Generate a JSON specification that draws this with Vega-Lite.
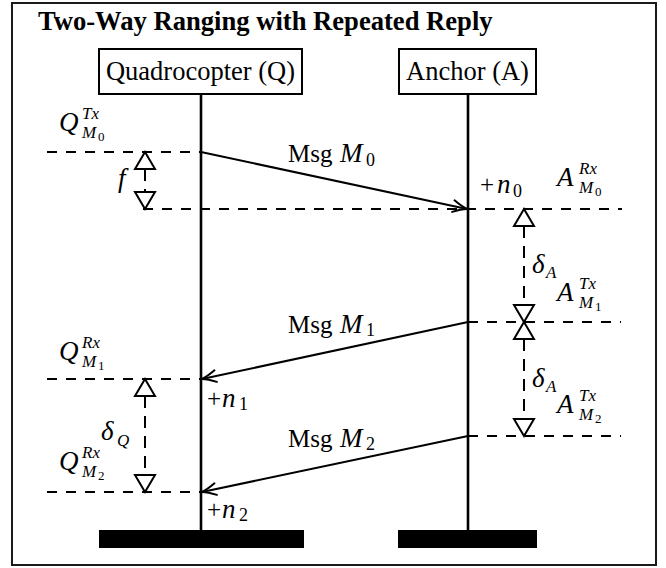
{
  "$schema": "https://vega.github.io/schema/vega-lite/v6.json",
  "width": 666,
  "height": 568,
  "autosize": {"type": "fit", "contains": "padding"},
  "padding": 0,
  "config": {"view": {"stroke": null}},
  "datasets": {
    "frame": [{"x": 12, "x2": 656, "y": 3, "y2": 565}],
    "boxes": [
      {"node": "Quadrocopter (Q)", "x": 99, "x2": 302, "y": 49, "y2": 94},
      {"node": "Anchor (A)", "x": 399, "x2": 536, "y": 49, "y2": 94}
    ],
    "names": [
      {"t": "Quadrocopter (Q)", "x": 200.5, "y": 80},
      {"t": "Anchor (A)", "x": 467.5, "y": 80}
    ],
    "lifelines": [
      {"node": "Q", "x": 201, "y": 94, "y2": 530},
      {"node": "A", "x": 468, "y": 94, "y2": 530}
    ],
    "bars": [
      {"node": "Q", "x": 99, "x2": 304, "y": 530, "y2": 548},
      {"node": "A", "x": 398, "x2": 537, "y": 530, "y2": 548}
    ],
    "events": [
      {"event": "Q Tx M0", "x": 47, "x2": 201, "y": 152},
      {"event": "A Rx M0", "x": 143, "x2": 622, "y": 209},
      {"event": "A Tx M1", "x": 468, "x2": 621, "y": 322},
      {"event": "Q Rx M1", "x": 47, "x2": 201, "y": 379},
      {"event": "A Tx M2", "x": 468, "x2": 621, "y": 436},
      {"event": "Q Rx M2", "x": 47, "x2": 201, "y": 492}
    ],
    "messages": [
      {"msg": "M0", "x": 201, "y": 152, "x2": 467, "y2": 209},
      {"msg": "M1", "x": 468, "y": 322, "x2": 202, "y2": 379},
      {"msg": "M2", "x": 468, "y": 436, "x2": 202, "y2": 492}
    ],
    "intervals": [
      {"label": "f", "x": 145, "y": 152, "y2": 209},
      {"label": "delta_Q", "x": 145, "y": 379, "y2": 492},
      {"label": "delta_A1", "x": 524, "y": 209, "y2": 322},
      {"label": "delta_A2", "x": 524, "y": 322, "y2": 436}
    ],
    "title": [{"t": "Two-Way Ranging with Repeated Reply", "x": 38, "y": 30}],
    "roman": [
      {"t": "Msg", "x": 288, "y": 162},
      {"t": "Msg", "x": 288, "y": 333},
      {"t": "Msg", "x": 288, "y": 447},
      {"t": "+", "x": 480, "y": 193},
      {"t": "+", "x": 207, "y": 407},
      {"t": "+", "x": 207, "y": 518}
    ],
    "italic": [
      {"t": "M", "x": 340, "y": 162},
      {"t": "M", "x": 340, "y": 333},
      {"t": "M", "x": 340, "y": 447},
      {"t": "n", "x": 497, "y": 193},
      {"t": "n", "x": 222, "y": 407},
      {"t": "n", "x": 222, "y": 518},
      {"t": "Q", "x": 59, "y": 131},
      {"t": "Q", "x": 59, "y": 360},
      {"t": "Q", "x": 59, "y": 470},
      {"t": "A", "x": 557, "y": 186},
      {"t": "A", "x": 557, "y": 301},
      {"t": "A", "x": 557, "y": 413},
      {"t": "f", "x": 118, "y": 187},
      {"t": "δ", "x": 532, "y": 273},
      {"t": "δ", "x": 532, "y": 387},
      {"t": "δ", "x": 101, "y": 440}
    ],
    "script": [
      {"t": "Tx", "x": 82, "y": 119},
      {"t": "Rx", "x": 82, "y": 348},
      {"t": "Rx", "x": 82, "y": 458},
      {"t": "Rx", "x": 579, "y": 174},
      {"t": "Tx", "x": 579, "y": 289},
      {"t": "Tx", "x": 579, "y": 401},
      {"t": "M", "x": 82, "y": 138},
      {"t": "M", "x": 82, "y": 367},
      {"t": "M", "x": 82, "y": 477},
      {"t": "M", "x": 579, "y": 193},
      {"t": "M", "x": 579, "y": 308},
      {"t": "M", "x": 579, "y": 420},
      {"t": "A", "x": 546, "y": 278},
      {"t": "A", "x": 546, "y": 392},
      {"t": "Q", "x": 117, "y": 446}
    ],
    "digits": [
      {"t": "0", "x": 366, "y": 166},
      {"t": "1", "x": 366, "y": 336},
      {"t": "2", "x": 366, "y": 450},
      {"t": "0", "x": 513, "y": 197},
      {"t": "1", "x": 239, "y": 410},
      {"t": "2", "x": 239, "y": 521}
    ],
    "digits2": [
      {"t": "0", "x": 98, "y": 141},
      {"t": "1", "x": 98, "y": 370},
      {"t": "2", "x": 98, "y": 480},
      {"t": "0", "x": 595, "y": 196},
      {"t": "1", "x": 595, "y": 311},
      {"t": "2", "x": 595, "y": 423}
    ]
  },
  "encoding": {
    "x": {"field": "x", "type": "quantitative", "scale": {"domain": [0, 666], "nice": false, "zero": false}, "axis": null},
    "y": {"field": "y", "type": "quantitative", "scale": {"domain": [0, 568], "nice": false, "zero": false, "reverse": true}, "axis": null}
  },
  "layer": [
    {
      "data": {"name": "frame"},
      "mark": {"type": "rect", "fill": "transparent", "stroke": "#1a1a1a", "strokeWidth": 2},
      "encoding": {"x2": {"field": "x2"}, "y2": {"field": "y2"}}
    },
    {
      "data": {"name": "events"},
      "mark": {"type": "rule", "color": "black", "strokeWidth": 2, "strokeDash": [10, 9]},
      "encoding": {"x2": {"field": "x2"}}
    },
    {
      "data": {"name": "intervals"},
      "mark": {"type": "rule", "color": "black", "strokeWidth": 2, "strokeDash": [12, 8], "strokeDashOffset": 3},
      "encoding": {"y2": {"field": "y2"}}
    },
    {
      "data": {"name": "lifelines"},
      "mark": {"type": "rule", "color": "black", "strokeWidth": 2.6},
      "encoding": {"y2": {"field": "y2"}}
    },
    {
      "data": {"name": "messages"},
      "mark": {"type": "rule", "color": "black", "strokeWidth": 2},
      "encoding": {"x2": {"field": "x2"}, "y2": {"field": "y2"}}
    },
    {
      "data": {"name": "messages"},
      "transform": [{"filter": "datum.x2 > datum.x"}],
      "mark": {"type": "point", "shape": "M -1 -0.42 C -0.6 -0.2 -0.25 -0.06 0 0 C -0.25 0.06 -0.6 0.2 -1 0.42", "size": 784, "angle": 12, "filled": false, "fill": "transparent", "stroke": "black", "strokeWidth": 2, "opacity": 1, "strokeCap": "round", "strokeJoin": "round"},
      "encoding": {
        "x": {"field": "x2", "type": "quantitative", "scale": {"domain": [0, 666], "nice": false, "zero": false}, "axis": null},
        "y": {"field": "y2", "type": "quantitative", "scale": {"domain": [0, 568], "nice": false, "zero": false, "reverse": true}, "axis": null}
      }
    },
    {
      "data": {"name": "messages"},
      "transform": [{"filter": "datum.x2 < datum.x"}],
      "mark": {"type": "point", "shape": "M -1 -0.42 C -0.6 -0.2 -0.25 -0.06 0 0 C -0.25 0.06 -0.6 0.2 -1 0.42", "size": 784, "angle": 168, "filled": false, "fill": "transparent", "stroke": "black", "strokeWidth": 2, "opacity": 1, "strokeCap": "round", "strokeJoin": "round"},
      "encoding": {
        "x": {"field": "x2", "type": "quantitative", "scale": {"domain": [0, 666], "nice": false, "zero": false}, "axis": null},
        "y": {"field": "y2", "type": "quantitative", "scale": {"domain": [0, 568], "nice": false, "zero": false, "reverse": true}, "axis": null}
      }
    },
    {
      "data": {"name": "intervals"},
      "mark": {"type": "point", "shape": "M 0 0 L 1 1.7 L -1 1.7 Z", "size": 400, "filled": true, "fill": "white", "stroke": "black", "strokeWidth": 2, "opacity": 1}
    },
    {
      "data": {"name": "intervals"},
      "mark": {"type": "point", "shape": "M 0 0 L 1 -1.7 L -1 -1.7 Z", "size": 400, "filled": true, "fill": "white", "stroke": "black", "strokeWidth": 2, "opacity": 1},
      "encoding": {
        "y": {"field": "y2", "type": "quantitative", "scale": {"domain": [0, 568], "nice": false, "zero": false, "reverse": true}, "axis": null}
      }
    },
    {
      "data": {"name": "boxes"},
      "mark": {"type": "rect", "fill": "white", "stroke": "black", "strokeWidth": 2},
      "encoding": {"x2": {"field": "x2"}, "y2": {"field": "y2"}}
    },
    {
      "data": {"name": "bars"},
      "mark": {"type": "rect", "fill": "black", "stroke": null},
      "encoding": {"x2": {"field": "x2"}, "y2": {"field": "y2"}}
    },
    {
      "data": {"name": "title"},
      "mark": {"type": "text", "align": "left", "baseline": "alphabetic", "font": "Liberation Serif", "fontSize": 26.6, "fontWeight": "bold", "color": "black"},
      "encoding": {"text": {"field": "t"}}
    },
    {
      "data": {"name": "names"},
      "mark": {"type": "text", "align": "center", "baseline": "alphabetic", "font": "Liberation Serif", "fontSize": 26.5, "color": "black"},
      "encoding": {"text": {"field": "t"}}
    },
    {
      "data": {"name": "roman"},
      "mark": {"type": "text", "align": "left", "baseline": "alphabetic", "font": "Liberation Serif", "fontSize": 25, "color": "black"},
      "encoding": {"text": {"field": "t"}}
    },
    {
      "data": {"name": "italic"},
      "mark": {"type": "text", "align": "left", "baseline": "alphabetic", "font": "Liberation Serif", "fontSize": 27, "fontStyle": "italic", "color": "black"},
      "encoding": {"text": {"field": "t"}}
    },
    {
      "data": {"name": "script"},
      "mark": {"type": "text", "align": "left", "baseline": "alphabetic", "font": "Liberation Serif", "fontSize": 17, "fontStyle": "italic", "color": "black"},
      "encoding": {"text": {"field": "t"}}
    },
    {
      "data": {"name": "digits"},
      "mark": {"type": "text", "align": "left", "baseline": "alphabetic", "font": "Liberation Serif", "fontSize": 18, "color": "black"},
      "encoding": {"text": {"field": "t"}}
    },
    {
      "data": {"name": "digits2"},
      "mark": {"type": "text", "align": "left", "baseline": "alphabetic", "font": "Liberation Serif", "fontSize": 13, "color": "black"},
      "encoding": {"text": {"field": "t"}}
    }
  ]
}
